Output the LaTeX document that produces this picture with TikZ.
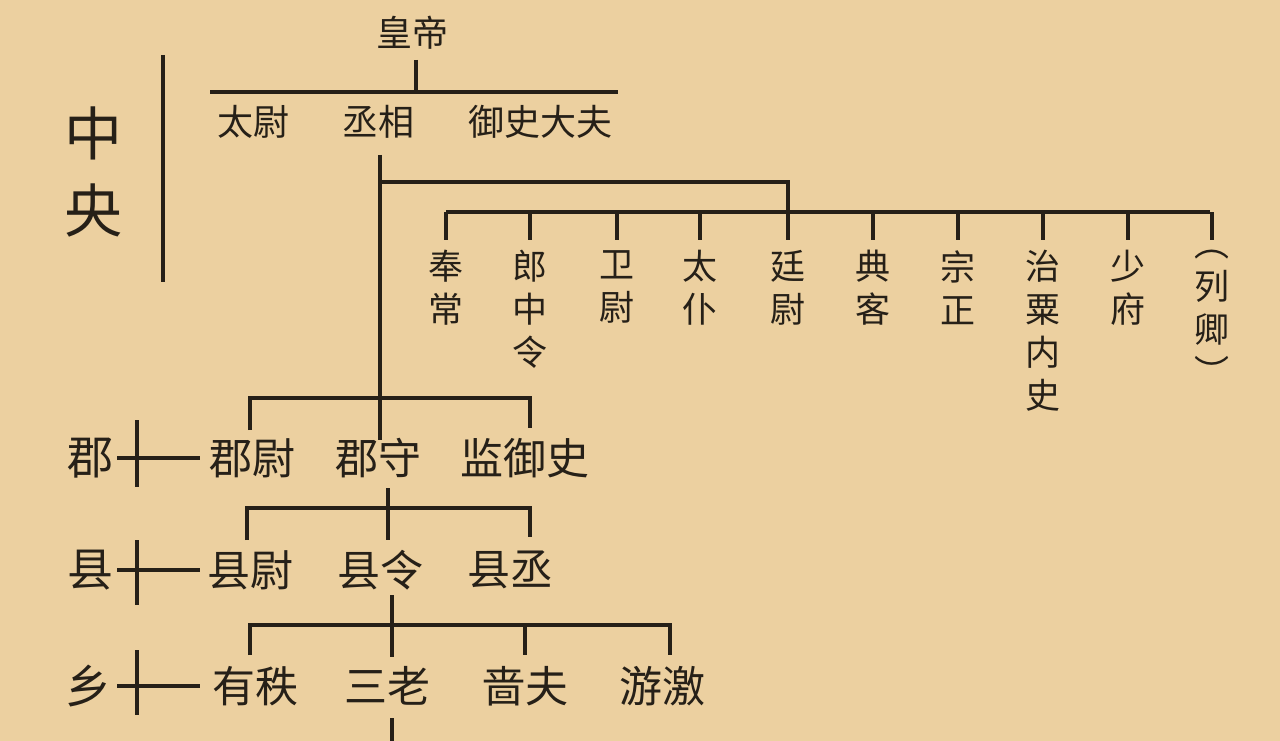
\documentclass[tikz,border=0pt]{standalone}
\usepackage{fontspec}
\newfontfamily\cjk{Noto Sans CJK SC}
\definecolor{paper}{RGB}{236,208,160}
\definecolor{ink}{RGB}{38,32,24}
\tikzset{
  office/.style={font=\cjk\fontsize{36}{38}\selectfont,text=ink,inner sep=0pt},
  local/.style={font=\cjk\fontsize{43}{45}\selectfont,text=ink,inner sep=0pt},
  level/.style={font=\cjk\fontsize{46}{48}\selectfont,text=ink,inner sep=0pt},
  central/.style={font=\cjk\fontsize{58}{60}\selectfont,text=ink,inner sep=0pt},
  minister/.style={font=\cjk\fontsize{35}{43}\selectfont,text=ink,inner sep=0pt,align=center,anchor=north},
  link/.style={draw=ink,line width=3.2pt}
}
\begin{document}
\begin{tikzpicture}[x=1pt,y=-1pt,line cap=butt,line join=miter]
\fill[paper] (0,0) rectangle (1280,741);
\useasboundingbox (0,0) rectangle (1280,741);
% central government
\node[central] (zhong) at (93,133) {中};
\node[central] (yang) at (93,210) {央};
\draw[link] (163,55) -- (163,282);
\node[office] (emperor) at (412,33) {皇帝};
\node[office] (taiwei) at (253,122) {太尉};
\node[office] (chengxiang) at (378,122) {丞相};
\node[office] (yushi) at (540,122) {御史大夫};
\coordinate (e1) at (416,60);
\draw[link] (e1) -- (416,92);
\draw[link] (210,92) -- (618,92);
% ministers
\draw[link] (380,155) -- (380,440);
\draw[link] (380,182) -- (788,182) -- (788,212);
\draw[link] (446,212) -- (1210,212);
\foreach \x/\t [count=\i] in {446/奉\\常,530/郎\\中\\令,617/卫\\尉,700/太\\仆,788/廷\\尉,873/典\\客,958/宗\\正,1043/治\\粟\\内\\史,1128/少\\府,1212/︵\\列\\卿\\︶}{
  \draw[link] (\x,212) -- (\x,240);
  \node[minister] (m\i) at (\x,250) {\t};
}
% commandery
\node[level] (jun) at (90,458) {郡};
\draw[link] (137,420) -- (137,487);
\draw[link] (117,458) -- (200,458);
\node[local] (junwei) at (252,458) {郡尉};
\node[local] (junshou) at (378,458) {郡守};
\node[local] (jianyushi) at (525,458) {监御史};
\draw[link] (250,430) -- (250,398) -- (530,398) -- (530,428);
% county
\draw[link] (388,488) -- (388,540);
\draw[link] (247,540) -- (247,508) -- (530,508) -- (530,537);
\node[level] (xian) at (90,570) {县};
\draw[link] (137,540) -- (137,605);
\draw[link] (117,570) -- (200,570);
\node[local] (xianwei) at (250,570) {县尉};
\node[local] (xianling) at (380,570) {县令};
\node[local] (xiancheng) at (510,570) {县丞};
% township
\draw[link] (392,595) -- (392,657);
\draw[link] (250,655) -- (250,625) -- (670,625) -- (670,655);
\draw[link] (525,625) -- (525,655);
\node[level] (xiang) at (88,686) {乡};
\draw[link] (137,650) -- (137,715);
\draw[link] (117,686) -- (200,686);
\node[local] (youzhi) at (255,686) {有秩};
\node[local] (sanlao) at (387,686) {三老};
\node[local] (sefu) at (525,686) {啬夫};
\node[local] (youjiao) at (662,686) {游激};
\draw[link] (392,718) -- (392,741);
\end{tikzpicture}
\end{document}
